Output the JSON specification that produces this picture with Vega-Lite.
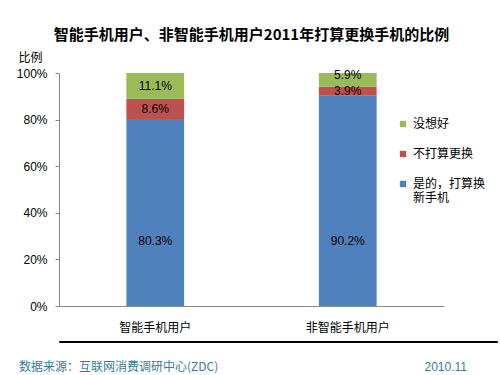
{
  "$schema": "https://vega.github.io/schema/vega-lite/v6.json",
  "padding": {"left": 16, "top": 28, "right": 5, "bottom": 5},
  "background": "white",
  "spacing": 7,
  "config": {"font": "Noto Sans CJK SC", "view": {"stroke": null}},
  "vconcat": [
    {
      "width": 385,
      "height": 233,
      "title": {"text": "智能手机用户、非智能手机用户2011年打算更换手机的比例", "fontSize": 15, "fontWeight": "bold", "anchor": "middle", "offset": 8, "color": "#000"},
      "data": {"values": [
        {"g": "智能手机用户", "c": "是的，打算换新手机", "v": 0.803},
        {"g": "智能手机用户", "c": "不打算更换", "v": 0.086},
        {"g": "智能手机用户", "c": "没想好", "v": 0.111},
        {"g": "非智能手机用户", "c": "是的，打算换新手机", "v": 0.902},
        {"g": "非智能手机用户", "c": "不打算更换", "v": 0.039},
        {"g": "非智能手机用户", "c": "没想好", "v": 0.059}
      ]},
      "transform": [
        {"calculate": "indexof(['是的，打算换新手机','不打算更换','没想好'], datum.c)", "as": "o"},
        {"stack": "v", "groupby": ["g"], "sort": [{"field": "o", "order": "ascending"}], "as": ["y0", "y1"]},
        {"calculate": "datum.o == 0 ? 0.28 : (datum.o == 2 && datum.v < 0.08 ? 0.99 : (datum.y0 + datum.y1) / 2)", "as": "ym"}
      ],
      "encoding": {
        "x": {"field": "g", "type": "nominal", "sort": ["智能手机用户", "非智能手机用户"],
          "scale": {"paddingInner": 0.7, "paddingOuter": 0.35},
          "axis": {"title": null, "labelFontSize": 12, "labelColor": "#000", "labelAngle": 0, "ticks": false, "domainColor": "#888", "labelPadding": 16}}
      },
      "layer": [
        {
          "mark": {"type": "bar"},
          "encoding": {
            "y": {"field": "y1", "type": "quantitative", "scale": {"domain": [0, 1]},
              "axis": {"title": "比例", "titleAngle": 0, "titleAlign": "left", "titleBaseline": "bottom", "titleX": -41, "titleY": -9, "titleFontSize": 12, "titleFontWeight": "normal", "titleColor": "#000",
                "format": "%", "values": [0, 0.2, 0.4, 0.6, 0.8, 1], "labelFont": "Liberation Sans", "labelFontSize": 12, "labelColor": "#000", "tickColor": "#888", "domainColor": "#888", "tickSize": 4, "labelPadding": 8, "grid": false}},
            "y2": {"field": "y0"},
            "color": {"field": "c", "type": "nominal",
              "scale": {"domain": ["没想好", "不打算更换", "是的，打算换新手机"], "range": ["#9bbb59", "#c0504d", "#4f81bd"]},
              "legend": {"title": null, "orient": "none", "legendX": 338, "legendY": 45, "symbolType": "square", "symbolSize": 40, "labelFontSize": 12, "labelColor": "#000", "rowPadding": 18, "symbolStrokeWidth": 0,
                "labelExpr": "datum.label == '是的，打算换新手机' ? ['是的，打算换', '新手机'] : datum.label"}}
          }
        },
        {
          "mark": {"type": "text", "font": "Liberation Sans", "fontSize": 12, "color": "#000"},
          "encoding": {
            "y": {"field": "ym", "type": "quantitative"},
            "text": {"field": "v", "type": "quantitative", "format": ".1%"}
          }
        }
      ]
    },
    {
      "width": 438,
      "height": 1,
      "view": {"stroke": "#000", "strokeWidth": 1},
      "data": {"values": [{"f": "数据来源：互联网消费调研中心(ZDC)"}, {"f": "2010.11"}]},
      "encoding": {
        "x": {"field": "f", "type": "nominal", "sort": null, "scale": {"type": "point", "padding": 0}, "axis": null},
        "text": {"field": "f"}
      },
      "layer": [
        {"transform": [{"filter": "datum.f != '2010.11'"}], "mark": {"type": "text", "align": "left", "baseline": "middle", "dy": 25, "dx": -40, "fontSize": 12, "color": "#3b7b9b"}},
        {"transform": [{"filter": "datum.f == '2010.11'"}], "mark": {"type": "text", "align": "right", "baseline": "middle", "dy": 25, "dx": -30, "fontSize": 12, "color": "#3b7b9b", "font": "Liberation Sans"}}
      ]
    }
  ]
}
